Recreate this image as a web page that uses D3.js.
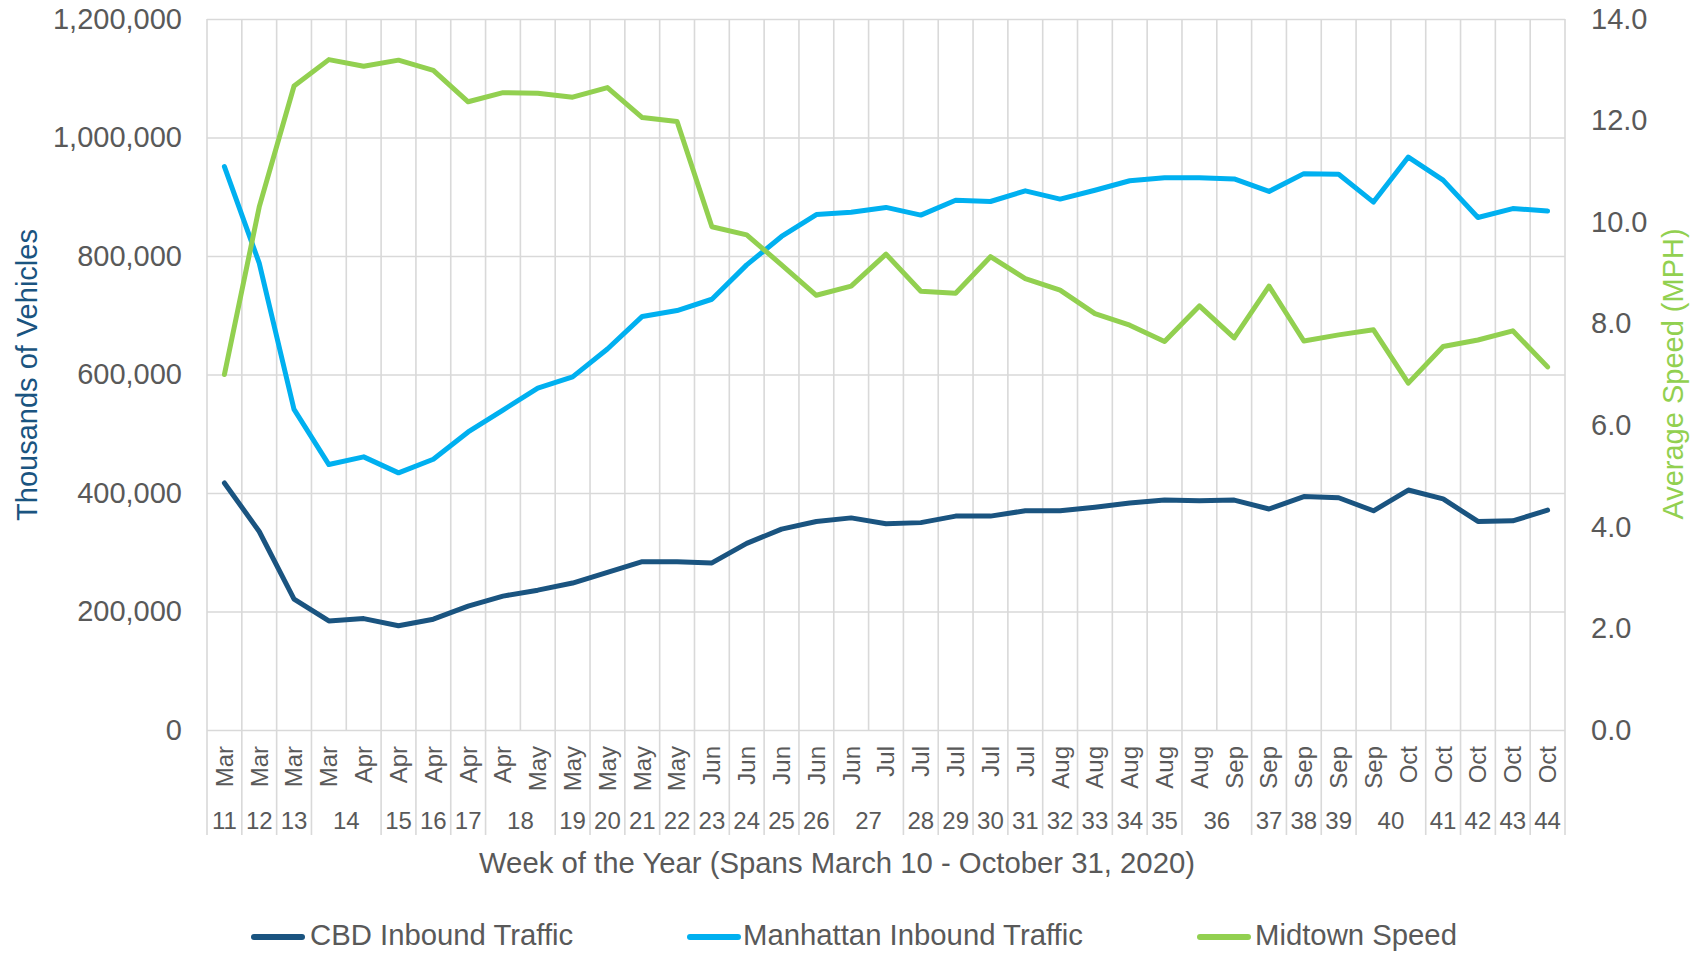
<!DOCTYPE html>
<html>
<head>
<meta charset="utf-8">
<script src="https://cdn.jsdelivr.net/npm/d3@7"></script>
<style>
  html, body { margin: 0; padding: 0; background: #ffffff; }
  svg { display: block; font-family: "Liberation Sans", Arial, sans-serif; }
</style>
</head>
<body>
<svg id="chart" width="1691" height="953"></svg>
<script>
// ---- data ----
const months = ["Mar","Mar","Mar","Mar","Apr","Apr","Apr","Apr","Apr","May","May","May","May","May","Jun","Jun","Jun","Jun","Jun","Jul","Jul","Jul","Jul","Jul","Aug","Aug","Aug","Aug","Aug","Sep","Sep","Sep","Sep","Sep","Oct","Oct","Oct","Oct","Oct"];
const weeks = [11,12,13,14,14,15,16,17,18,18,19,20,21,22,23,24,25,26,27,27,28,29,30,31,32,33,34,35,36,36,37,38,39,40,40,41,42,43,44];
const cbdInbound = [417000,335000,221000,184000,188000,176000,187000,209000,226000,236000,248000,266000,284000,284000,282000,315000,339000,352000,358000,348000,350000,361000,361000,370000,370000,376000,383000,388000,387000,388000,373000,394000,392000,370000,405000,390000,352000,353000,371000];
const manhattanInbound = [951000,788000,541000,448000,461000,434000,457000,503000,540000,577000,596000,643000,698000,708000,727000,785000,833000,870000,874000,882000,869000,894000,892000,910000,896000,911000,927000,932000,932000,930000,909000,939000,938000,891000,967000,928000,865000,880000,876000];
const midtownSpeed = [7.0,10.3,12.68,13.2,13.07,13.19,12.99,12.37,12.55,12.54,12.46,12.65,12.06,11.98,9.91,9.75,9.16,8.56,8.74,9.37,8.64,8.6,9.32,8.89,8.66,8.2,7.97,7.65,8.35,7.72,8.74,7.66,7.78,7.88,6.83,7.55,7.68,7.86,7.15];
const leftTicks = [0,200000,400000,600000,800000,1000000,1200000];
const rightTicks = [0,2,4,6,8,10,12,14];
const seriesNames = ["CBD Inbound Traffic","Manhattan Inbound Traffic","Midtown Speed"];
const leftTitle = "Thousands of Vehicles";
const rightTitle = "Average Speed (MPH)";
const xTitle = "Week of the Year (Spans March 10 - October 31, 2020)";

// ---- layout ----
const L = 207, R = 1565, T = 19, B = 730;
const colors = ["#1a5480", "#00b0f0", "#92d050"];
const textColor = "#595959";
const gridColor = "#d9d9d9";

const svg = d3.select("#chart");
const idx = d3.range(months.length);
const x = d3.scaleBand().domain(idx).range([L, R]).padding(0);
const yL = d3.scaleLinear().domain([0, 1200000]).range([B, T]);
const yR = d3.scaleLinear().domain([0, 14]).range([B, T]);
const bx = k => k < months.length ? x(k) : x(months.length - 1) + x.bandwidth();

// horizontal gridlines
svg.append("g").attr("transform", `translate(${L},0)`)
  .call(d3.axisLeft(yL).tickValues(leftTicks).tickSize(-(R - L)).tickFormat(""))
  .call(g => g.select(".domain").remove())
  .call(g => g.selectAll("line").attr("stroke", gridColor).attr("stroke-width", 1.6));

// vertical gridlines at category boundaries
const bounds = d3.range(months.length + 1);
svg.append("g").selectAll("line").data(bounds).join("line")
  .attr("x1", bx).attr("x2", bx)
  .attr("y1", T).attr("y2", B)
  .attr("stroke", gridColor).attr("stroke-width", 1.6);

// group separators below axis (week groups)
const groupStarts = idx.filter(i => i === 0 || weeks[i] !== weeks[i - 1]);
const sepIdx = groupStarts.concat([months.length]);
svg.append("g").selectAll("line").data(sepIdx).join("line")
  .attr("x1", bx).attr("x2", bx)
  .attr("y1", B).attr("y2", 835)
  .attr("stroke", gridColor).attr("stroke-width", 1.6);

// left axis labels
svg.append("g").attr("transform", `translate(${L},0)`)
  .call(d3.axisLeft(yL).tickValues(leftTicks).tickSize(0).tickPadding(25).tickFormat(d3.format(",")))
  .call(g => g.select(".domain").remove())
  .call(g => g.selectAll("text").attr("fill", textColor).attr("font-size", 29)
    .attr("font-family", "'Liberation Sans', Arial, sans-serif"));

// right axis labels
svg.append("g").attr("transform", `translate(${R},0)`)
  .call(d3.axisRight(yR).tickValues(rightTicks).tickSize(0).tickPadding(26).tickFormat(d3.format(".1f")))
  .call(g => g.select(".domain").remove())
  .call(g => g.selectAll("text").attr("fill", textColor).attr("font-size", 29)
    .attr("font-family", "'Liberation Sans', Arial, sans-serif"));

// month labels (rotated)
svg.append("g").selectAll("text").data(idx).join("text")
  .attr("transform", i => `translate(${x(i) + x.bandwidth() / 2},746) rotate(-90)`)
  .attr("text-anchor", "end").attr("dy", "0.35em")
  .attr("font-size", 24).attr("fill", textColor)
  .text(i => months[i]);

// week labels (grouped)
const groups = groupStarts.map((s, j) => {
  const e = j + 1 < groupStarts.length ? groupStarts[j + 1] : months.length;
  return { start: s, end: e, week: weeks[s] };
});
svg.append("g").selectAll("text").data(groups).join("text")
  .attr("x", g => (bx(g.start) + bx(g.end)) / 2)
  .attr("y", 829)
  .attr("text-anchor", "middle")
  .attr("font-size", 24).attr("fill", textColor)
  .text(g => g.week);

// series lines
const series = [
  { vals: manhattanInbound, scale: yL, color: colors[1] },
  { vals: cbdInbound, scale: yL, color: colors[0] },
  { vals: midtownSpeed, scale: yR, color: colors[2] }
];
series.forEach(s => {
  svg.append("path")
    .attr("d", d3.line().x(i => x(i) + x.bandwidth() / 2).y(i => s.scale(s.vals[i]))(idx))
    .attr("fill", "none").attr("stroke", s.color).attr("stroke-width", 5)
    .attr("stroke-linejoin", "round").attr("stroke-linecap", "round");
});

// axis titles
svg.append("text")
  .attr("transform", `translate(27,375) rotate(-90)`)
  .attr("text-anchor", "middle").attr("dy", "0.35em")
  .attr("font-size", 29).attr("fill", colors[0])
  .text(leftTitle);
svg.append("text")
  .attr("transform", `translate(1673,374) rotate(-90)`)
  .attr("text-anchor", "middle").attr("dy", "0.35em")
  .attr("font-size", 29).attr("fill", colors[2])
  .text(rightTitle);
svg.append("text")
  .attr("x", 837).attr("y", 873)
  .attr("text-anchor", "middle")
  .attr("font-size", 29.3).attr("fill", textColor)
  .text(xTitle);

// legend
const legendPos = [{ lx: 251, tx: 310 }, { lx: 687, tx: 743 }, { lx: 1197, tx: 1255 }];
const lg = svg.append("g").selectAll("g").data(seriesNames).join("g");
lg.append("line")
  .attr("x1", (d, i) => legendPos[i].lx + 3).attr("x2", (d, i) => legendPos[i].lx + 51)
  .attr("y1", 937).attr("y2", 937)
  .attr("stroke", (d, i) => colors[i]).attr("stroke-width", 6).attr("stroke-linecap", "round");
lg.append("text")
  .attr("x", (d, i) => legendPos[i].tx).attr("y", 945)
  .attr("font-size", 29.3).attr("fill", textColor)
  .text(d => d);
</script>
</body>
</html>
